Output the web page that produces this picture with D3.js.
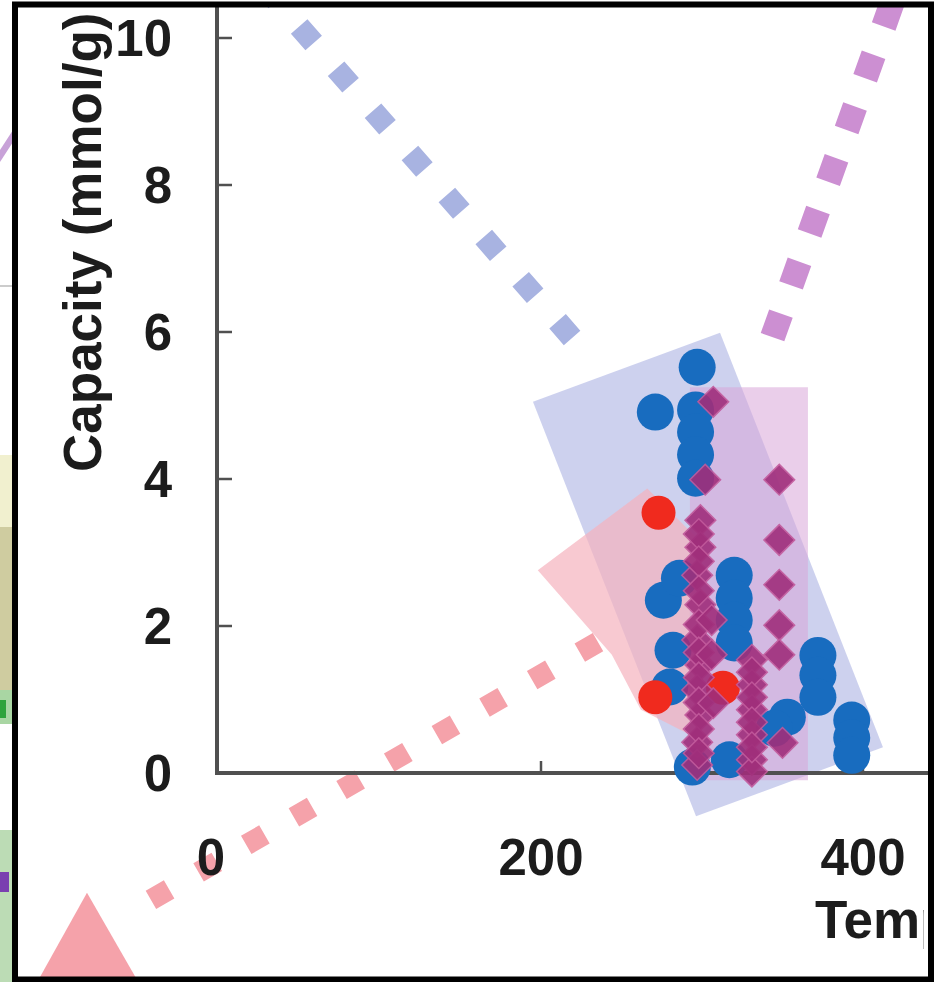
<!DOCTYPE html>
<html>
<head>
<meta charset="utf-8">
<script src="https://cdn.jsdelivr.net/npm/d3@7/dist/d3.min.js"></script>
<style>
  html, body { margin: 0; padding: 0; background: #fff; }
  svg { display: block; }
  text { font-family: "Liberation Sans", Arial, Helvetica, sans-serif; font-weight: bold; fill: #1c1c1c; }
</style>
</head>
<body>
<svg id="chart" width="940" height="982"></svg>
<script>
// ---- data: temperature (K) vs. capacity (mmol/g) ----
const blueSeries = [
  [297, 5.52], [271, 4.91], [296, 4.94], [296, 4.64], [296, 4.33], [296, 4.01],
  [276, 2.35], [286, 2.65], [320, 2.69], [320, 2.38], [320, 2.08], [320, 1.77],
  [282, 1.67], [280, 1.17], [294, 0.08], [317, 0.18], [353, 0.76], [345, 0.61],
  [372, 1.60], [372, 1.33], [372, 1.03], [393, 0.72], [393, 0.48], [393, 0.24]
];
const redSeries = [
  [273, 3.54], [271, 1.03], [313, 1.16]
];
const purpleSeries = [
  [307, 5.05], [302, 3.99], [348, 3.99],
  [299, 3.44], [299, 3.07], [297, 2.69], [299, 2.29], [297, 1.81], [299, 1.47],
  [297, 1.13], [299, 0.79], [297, 0.42], [297, 0.11],
  [298, 3.25], [298, 2.88], [298, 2.48], [298, 2.02], [298, 1.64], [298, 1.30],
  [298, 0.96], [298, 0.60], [298, 0.27],
  [306, 2.08], [306, 1.61], [307, 0.95],
  [348, 3.17], [348, 2.56], [348, 2.01], [348, 1.61], [350, 0.41],
  [331, 1.54], [331, 1.20], [331, 0.86], [331, 0.52], [331, 0.18], [331, 0.02],
  [331, 1.37], [331, 1.03], [331, 0.69], [331, 0.35]
];

// shaded regions (corner points in temperature / capacity units)
const blueRegion = [[195, 5.05], [311.2, 5.99], [412.4, 0.35], [296.3, -0.59]];
const pinkRegion = [[198, 2.76], [266, 3.87], [299, 3.15], [299, 0.45], [262, 0.86], [244, 1.61]];
const purpleRegion = [[292.5, 5.25], [365.8, 5.25], [365.8, -0.1], [292.5, -0.1]];

// dotted trend arrows (drawn from the data cloud outwards)
const blueArrow = [[219.3, 5.92], [20, 10.9]];
const purpleArrow = [[343.8, 5.93], [419.9, 10.59]];
const redArrow = [[235.4, 1.78], [-55.3, -1.89]];
const redArrowHead = [[-82, -1.63], [-44.7, -3.05], [-117.4, -3.02]];

const xTicks = [0, 200, 400];
const yTicks = [0, 2, 4, 6, 8, 10];
const xTitle = "Temperature (K)";
const yTitle = "Capacity (mmol/g)";

// ---- layout ----
const svg = d3.select("#chart");
const x = d3.scaleLinear().domain([0, 400]).range([219, 863]);
const y = d3.scaleLinear().domain([0, 10]).range([773, 38]);

// neighbouring panel edges on the far left
const edge = svg.append("g");
edge.append("rect").attr("x", 0).attr("y", 455).attr("width", 13).attr("height", 72).attr("fill", "#f1f0cf");
edge.append("rect").attr("x", 0).attr("y", 527).attr("width", 13).attr("height", 163).attr("fill", "#cfcca0");
edge.append("rect").attr("x", 0).attr("y", 690).attr("width", 13).attr("height", 34).attr("fill", "#a9d6a3");
edge.append("rect").attr("x", 0).attr("y", 700).attr("width", 6).attr("height", 18).attr("fill", "#2fa33c");
edge.append("rect").attr("x", 0).attr("y", 830).attr("width", 13).attr("height", 152).attr("fill", "#bcdcb5");
edge.append("rect").attr("x", 0).attr("y", 872).attr("width", 9).attr("height", 20).attr("fill", "#7a3fb0");
edge.append("path").attr("d", "M0,150 L13,130 L13,142 L0,162 Z").attr("fill", "#c8a2d8");
edge.append("line").attr("x1", 0).attr("x2", 13).attr("y1", 286).attr("y2", 286).attr("stroke", "#999").attr("stroke-width", 1);

// clip everything to the panel interior
const defs = svg.append("defs");
defs.append("clipPath").attr("id", "panel")
  .append("rect").attr("x", 18).attr("y", 7).attr("width", 910).attr("height", 970);
const g = svg.append("g").attr("clip-path", "url(#panel)");

const line = d3.line().x(d => x(d[0])).y(d => y(d[1]));
const poly = pts => line(pts) + "Z";

// shaded regions
g.append("path").attr("d", poly(blueRegion)).attr("fill", "#bcc2e8").attr("opacity", 0.75);
g.append("path").attr("d", poly(pinkRegion)).attr("fill", "#f5b2bd").attr("opacity", 0.7);
g.append("path").attr("d", poly(purpleRegion)).attr("fill", "#d9a5d8").attr("opacity", 0.55);

// dotted arrows
g.append("path").attr("d", line(blueArrow)).attr("fill", "none")
  .attr("stroke", "#a8b3e1").attr("stroke-width", 22).attr("stroke-dasharray", "22 34");
g.append("path").attr("d", line(purpleArrow)).attr("fill", "none")
  .attr("stroke", "#cc8fd2").attr("stroke-width", 25).attr("stroke-dasharray", "25 30");
g.append("path").attr("d", line(redArrow)).attr("fill", "none")
  .attr("stroke", "#f5a2aa").attr("stroke-width", 21).attr("stroke-dasharray", "21 34");
g.append("path").attr("d", poly(redArrowHead)).attr("fill", "#f5a2aa");

// axes
const axisColor = "#505050";
g.append("line").attr("x1", 217).attr("x2", 217).attr("y1", 0).attr("y2", y(0) + 2)
  .attr("stroke", axisColor).attr("stroke-width", 4);
g.append("line").attr("x1", 215).attr("x2", 940).attr("y1", y(0)).attr("y2", y(0))
  .attr("stroke", axisColor).attr("stroke-width", 4);

g.selectAll(".ytick").data(yTicks.filter(d => d > 0)).join("line")
  .attr("x1", 217).attr("x2", 232).attr("y1", d => y(d)).attr("y2", d => y(d))
  .attr("stroke", axisColor).attr("stroke-width", 2.5);
g.selectAll(".xtick").data(xTicks.filter(d => d > 0)).join("line")
  .attr("x1", d => x(d)).attr("x2", d => x(d)).attr("y1", y(0)).attr("y2", y(0) - 12)
  .attr("stroke", axisColor).attr("stroke-width", 2.5);

// data points
g.selectAll(".blue").data(blueSeries).join("circle")
  .attr("cx", d => x(d[0])).attr("cy", d => y(d[1])).attr("r", 18.5)
  .attr("fill", "#186cbf");
g.selectAll(".red").data(redSeries).join("circle")
  .attr("cx", d => x(d[0])).attr("cy", d => y(d[1])).attr("r", 17)
  .attr("fill", "#f02a1e");
const diamond = d3.symbol().type(d3.symbolSquare).size(470);
g.selectAll(".purple").data(purpleSeries).join("path")
  .attr("d", diamond)
  .attr("transform", d => `translate(${x(d[0])},${y(d[1])}) rotate(45)`)
  .attr("fill", "#a02e7b").attr("stroke", "#c25a9c").attr("stroke-width", 1.5)
  .attr("opacity", 0.9);

// tick labels
g.selectAll(".ylab").data(yTicks).join("text")
  .attr("x", 172).attr("y", d => y(d) + 18)
  .attr("text-anchor", "end").attr("font-size", 51)
  .text(d => d);
g.selectAll(".xlab").data(xTicks).join("text")
  .attr("x", d => x(d) - (d === 0 ? 8 : 0)).attr("y", 875)
  .attr("text-anchor", "middle").attr("font-size", 51)
  .text(d => d);

// axis titles (x title runs past the panel edge)
defs.append("clipPath").attr("id", "xtitle")
  .append("rect").attr("x", 18).attr("y", 7).attr("width", 906).attr("height", 970);
svg.append("g").attr("clip-path", "url(#xtitle)")
  .append("text").attr("x", 815).attr("y", 938).attr("font-size", 53).text(xTitle);
g.append("text").attr("transform", "translate(101,472) rotate(-90)")
  .attr("font-size", 53).text(yTitle);

// panel frame
svg.append("rect").attr("x", 15).attr("y", 4.5).attr("width", 916).attr("height", 975)
  .attr("fill", "none").attr("stroke", "#000").attr("stroke-width", 6);
</script>
</body>
</html>
